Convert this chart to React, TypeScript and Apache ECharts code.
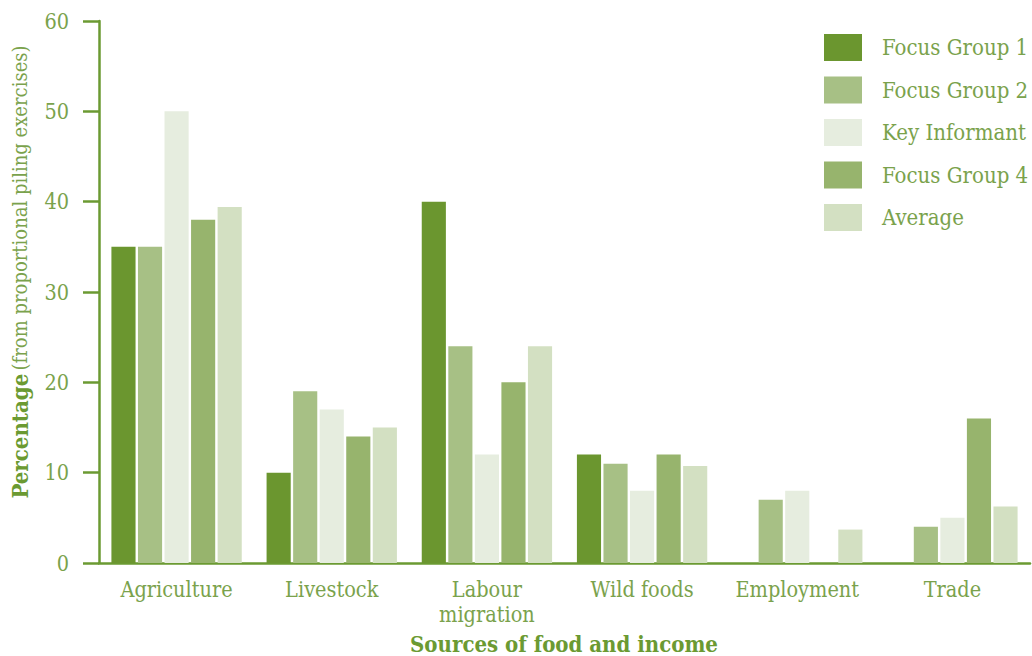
import React, { useEffect, useRef } from "react";
import * as echarts from "echarts";

const categories = ["Agriculture", "Livestock", "Labour\nmigration", "Wild foods", "Employment", "Trade"];
const seriesNames = ["Focus Group 1", "Focus Group 2", "Key Informant", "Focus Group 4", "Average"];
const focusGroup1 = [35, 10, 40, 12, 0, 0];
const focusGroup2 = [35, 19, 24, 11, 7, 4];
const keyInformant = [50, 17, 12, 8, 8, 5];
const focusGroup4 = [38, 14, 20, 12, 0, 16];
const average = [39.4, 15, 24, 10.75, 3.7, 6.25];
const colors = ["#6b962f", "#a7c085", "#e6eddf", "#97b46d", "#d3e0c2"];

const axisColor = "#6b9a32";
const textColor = "#7aa24c";
const FONT = "DejaVu Serif Condensed";

export default function App() {
  const ref = useRef<HTMLDivElement>(null);
  useEffect(() => {
    if (!ref.current) return;
    const chart = echarts.init(ref.current, null, { renderer: "svg" });
    const data = [focusGroup1, focusGroup2, keyInformant, focusGroup4, average];
    chart.setOption({
      animation: false,
      backgroundColor: "#ffffff",
      grid: { left: 99, right: 2, top: 21, bottom: 93, containLabel: false },
      legend: {
        orient: "vertical",
        left: 824,
        top: 34,
        padding: 0,
        itemWidth: 38,
        itemHeight: 27,
        itemGap: 15.5,
        icon: "rect",
        data: seriesNames,
        textStyle: { color: textColor, fontFamily: FONT, fontSize: 22, padding: [0, 0, 0, 15] },
      },
      xAxis: {
        type: "category",
        data: categories,
        axisLine: { lineStyle: { color: axisColor, width: 2.5 } },
        axisTick: { length: 13, lineStyle: { color: axisColor, width: 2.5 } },
        axisLabel: {
          color: textColor,
          fontFamily: FONT,
          fontSize: 21.5,
          lineHeight: 25,
          margin: 14,
          interval: 0,
        },
      },
      yAxis: {
        type: "value",
        min: 0,
        max: 60,
        interval: 10,
        splitLine: { show: false },
        axisLine: { show: true, lineStyle: { color: axisColor, width: 2.5 } },
        axisTick: { show: true, length: 16, lineStyle: { color: axisColor, width: 2.5 } },
        axisLabel: { color: textColor, fontFamily: FONT, fontSize: 21.5, margin: 30 },
      },
      series: seriesNames.map((name, i) => ({
        name,
        type: "bar",
        data: data[i],
        itemStyle: { color: colors[i] },
        barGap: "10%",
        barCategoryGap: "16%",
      })),
      graphic: [
        {
          type: "text",
          x: 20,
          y: 272,
          rotation: Math.PI / 2,
          style: {
            text: "{b|Percentage} {n|(from proportional piling exercises)}",
            align: "center",
            verticalAlign: "middle",
            rich: {
              b: { fontFamily: FONT, fontWeight: "bold", fontSize: 22, fill: axisColor },
              n: { fontFamily: FONT, fontSize: 20, fill: textColor },
            },
          },
        },
        {
          type: "text",
          x: 564,
          y: 644,
          style: {
            text: "Sources of food and income",
            align: "center",
            verticalAlign: "middle",
            fontFamily: FONT,
            fontWeight: "bold",
            fontSize: 22,
            fill: axisColor,
          },
        },
      ],
    });
    return () => chart.dispose();
  }, []);
  return <div ref={ref} style={{ width: 1032, height: 656, position: "absolute", left: 0, top: 0 }} />;
}
